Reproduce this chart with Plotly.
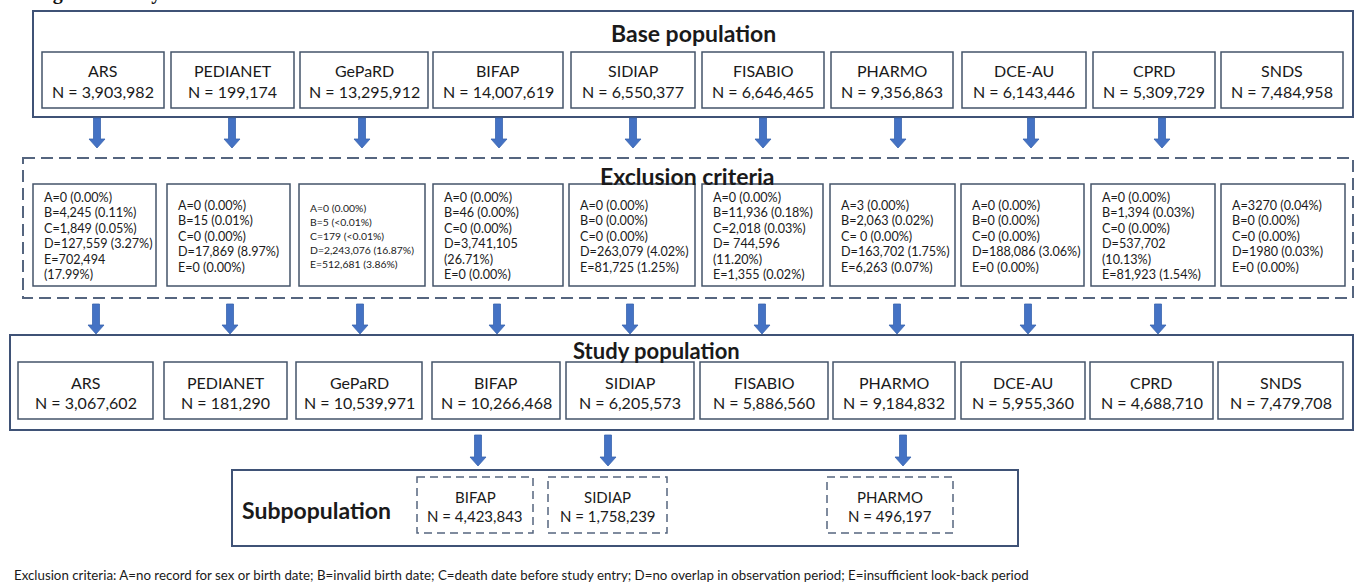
import plotly.graph_objects as go

# ---------------- data ----------------
databases = ["ARS", "PEDIANET", "GePaRD", "BIFAP", "SIDIAP", "FISABIO", "PHARMO", "DCE-AU", "CPRD", "SNDS"]
base_n = ["3,903,982", "199,174", "13,295,912", "14,007,619", "6,550,377", "6,646,465",
          "9,356,863", "6,143,446", "5,309,729", "7,484,958"]
excl_A = ["0 (0.00%)", "0 (0.00%)", "0 (0.00%)", "0 (0.00%)", "0 (0.00%)", "0 (0.00%)",
          "3 (0.00%)", "0 (0.00%)", "0 (0.00%)", "3270 (0.04%)"]
excl_B = ["4,245 (0.11%)", "15 (0.01%)", "5 (<0.01%)", "46 (0.00%)", "0 (0.00%)", "11,936 (0.18%)",
          "2,063 (0.02%)", "0 (0.00%)", "1,394 (0.03%)", "0 (0.00%)"]
excl_C = ["1,849 (0.05%)", "0 (0.00%)", "179 (<0.01%)", "0 (0.00%)", "0 (0.00%)", "2,018 (0.03%)",
          " 0 (0.00%)", "0 (0.00%)", "0 (0.00%)", "0 (0.00%)"]
excl_D = ["127,559 (3.27%)", "17,869 (8.97%)", "2,243,076 (16.87%)", "3,741,105|(26.71%)",
          "263,079 (4.02%)", " 744,596|(11.20%)", "163,702 (1.75%)", "188,086 (3.06%)",
          "537,702|(10.13%)", "1980 (0.03%)"]
excl_E = ["702,494|(17.99%)", "0 (0.00%)", "512,681 (3.86%)", "0 (0.00%)", "81,725 (1.25%)",
          "1,355 (0.02%)", "6,263 (0.07%)", "0 (0.00%)", "81,923 (1.54%)", "0 (0.00%)"]
study_n = ["3,067,602", "181,290", "10,539,971", "10,266,468", "6,205,573", "5,886,560",
           "9,184,832", "5,955,360", "4,688,710", "7,479,708"]
sub_db = ["BIFAP", "SIDIAP", "PHARMO"]
sub_n = ["4,423,843", "1,758,239", "496,197"]
criteria_letters = ["A", "B", "C", "D", "E"]
section_titles = ["Base population", "Exclusion criteria", "Study population", "Subpopulation"]
footnote = ("Exclusion criteria: A=no record for sex or birth date; B=invalid birth date; "
            "C=death date before study entry; D=no overlap in observation period; "
            "E=insufficient look-back period")
fig_title = "Figure 1 Study flowchart"

# ---------------- layout constants (pixels) ----------------
W, H = 1360, 585
FONT = "Lato"
TXT = "#1a1a1a"
BORDER = "#44546A"
OUTER = "#3F5276"
ARROW = "#4472C4"

base_x0 = [42, 171, 300, 433, 571, 702, 831, 962, 1093, 1221]
base_x1 = [164, 294, 428, 563, 695, 824, 953, 1086, 1215, 1343]
base_y = (52, 108)
excl_x0 = [33, 167, 299, 433, 569, 702, 830, 961, 1091, 1221]
excl_x1 = [156, 290, 425, 563, 695, 823, 955, 1084, 1215, 1345]
excl_y = (184, 286)
excl_font = [12.6, 12.6, 10.4, 12.6, 12.6, 12.6, 12.6, 12.6, 12.6, 12.6]
excl_step = [15.5, 15.5, 14, 15.5, 15.5, 15.5, 15.5, 15.5, 15.5, 15.5]
study_x0 = [18, 164, 296, 432, 566, 700, 833, 961, 1090, 1218]
study_x1 = [153, 287, 422, 560, 694, 828, 955, 1085, 1213, 1343]
study_y = (362, 419)
sub_x0 = [417, 548, 827]
sub_x1 = [533, 667, 953]
sub_y = (477, 533)

arrows1 = [97, 232, 362, 499, 633, 763, 898, 1031, 1162]
arrows2 = [96, 230, 360, 497, 630, 762, 897, 1028, 1158]
arrows3 = [478, 608, 903]

fig = go.Figure()
fig.add_trace(go.Scatter(x=[0, W], y=[0, H], mode="markers",
                         marker=dict(opacity=0), hoverinfo="skip", showlegend=False))

shapes = []
ann = []


def rect(x0, y0, x1, y1, color, width, dash="solid"):
    shapes.append(dict(type="rect", xref="x", yref="y", x0=x0, y0=y0, x1=x1, y1=y1,
                       line=dict(color=color, width=width, dash=dash), fillcolor="rgba(0,0,0,0)",
                       layer="below"))


def text(x, y, s, size, bold=False, xanchor="center", align="center", yanchor="middle",
         family=FONT, color=TXT):
    if bold:
        s = "<b>" + s + "</b>"
    ann.append(dict(x=x, y=y, xref="x", yref="y", text=s, showarrow=False,
                    xanchor=xanchor, yanchor=yanchor, align=align,
                    font=dict(family=family, size=size, color=color)))


def arrow(x, y0, y1):
    sw, hw, hl = 3.5, 8, 9
    yh = y1 - hl
    p = (f"M {x-sw},{y0} L {x+sw},{y0} L {x+sw},{yh} L {x+hw},{yh} L {x},{y1} "
         f"L {x-hw},{yh} L {x-sw},{yh} Z")
    shapes.append(dict(type="path", xref="x", yref="y", path=p, fillcolor=ARROW,
                       line=dict(color="#3A64AE", width=0.8)))


# figure title (cut at the top, as in the source)
text(33, 6, fig_title, 20, bold=True, xanchor="left", yanchor="bottom",
     family="Liberation Serif", color="#111")

# base population
rect(33, 11, 1353, 117, OUTER, 2)
text(693, 33, section_titles[0], 23, bold=True)
for i, db in enumerate(databases):
    rect(base_x0[i], base_y[0], base_x1[i], base_y[1], BORDER, 1.5)
    cx = (base_x0[i] + base_x1[i]) / 2
    text(cx, 70, db, 16)
    text(cx, 91, "N = " + base_n[i], 16)
for x in arrows1:
    arrow(x, 118, 148)

# exclusion criteria
rect(23, 158, 1353, 298, "#55657F", 2, dash="12px,6px")
for i, db in enumerate(databases):
    rect(excl_x0[i], excl_y[0], excl_x1[i], excl_y[1], BORDER, 1.5)
    vals = [excl_A[i], excl_B[i], excl_C[i], excl_D[i], excl_E[i]]
    lines = []
    for L, v in zip(criteria_letters, vals):
        lines.extend((L + "=" + v).replace("<", "&lt;").split("|"))
    cy = (excl_y[0] + excl_y[1]) / 2 + 1
    step = excl_step[i]
    y_start = cy - step * (len(lines) - 1) / 2
    for k, ln in enumerate(lines):
        text(excl_x0[i] + 9, y_start + k * step, ln, excl_font[i],
             xanchor="left", align="left")
text(687, 176, section_titles[1], 23, bold=True)
for x in arrows2:
    arrow(x, 304, 334)

# study population
rect(10, 335, 1353, 430, OUTER, 2)
text(656, 350, section_titles[2], 22, bold=True)
for i, db in enumerate(databases):
    rect(study_x0[i], study_y[0], study_x1[i], study_y[1], BORDER, 1.5)
    cx = (study_x0[i] + study_x1[i]) / 2
    text(cx, 382, db, 16)
    text(cx, 402, "N = " + study_n[i], 16)
for x in arrows3:
    arrow(x, 435, 466)

# subpopulation
rect(232, 470, 1018, 546, OUTER, 2)
text(316, 510, section_titles[3], 23, bold=True)
for i, db in enumerate(sub_db):
    rect(sub_x0[i], sub_y[0], sub_x1[i], sub_y[1], "#55657F", 1.5, dash="8px,5px")
    cx = (sub_x0[i] + sub_x1[i]) / 2
    text(cx, 497, db, 15)
    text(cx, 516, "N = " + sub_n[i], 15)

# footnote
text(12, 575, footnote, 13.3, xanchor="left", align="left")

fig.update_layout(
    width=W, height=H, margin=dict(l=0, r=0, t=0, b=0),
    paper_bgcolor="white", plot_bgcolor="white", showlegend=False,
    xaxis=dict(range=[0, W], visible=False, fixedrange=True),
    yaxis=dict(range=[H, 0], visible=False, fixedrange=True),
    shapes=shapes, annotations=ann,
)
fig.write_html("out.html", config={"displayModeBar": False, "staticPlot": True},
               post_script="document.body.style.margin='0';document.body.style.padding='0';"
                           "document.body.style.overflow='hidden';")
